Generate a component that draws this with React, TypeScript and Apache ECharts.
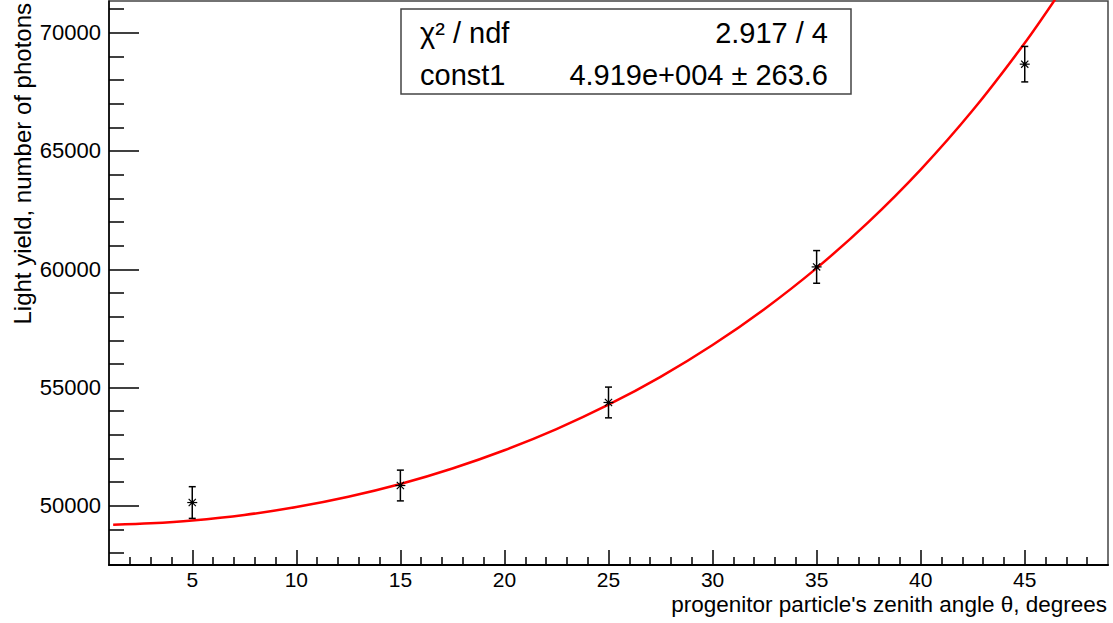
import React, { useEffect, useRef } from "react";
import * as echarts from "echarts";

// measured points
const angles = [5, 15, 25, 35, 45];
const yields = [50140, 50860, 54370, 60100, 68670];
const yieldErrors = [670, 650, 650, 690, 750];

// fitted curve (it leaves the frame at the top)
const fitAngles = [1.2, 3, 5, 7.5, 10, 12.5, 15, 17.5, 20, 22.5, 25, 27.5, 30, 32.5, 35, 37.5, 40, 42.5, 45, 46.5];
const fitValues = [49200, 49260, 49380, 49615, 49950, 50385, 50925, 51580, 52350, 53245, 54275, 55455, 56800, 58325, 60050, 62005, 64215, 66720, 69565, 71460];

// axis ticks
const xMajorTicks = [5, 10, 15, 20, 25, 30, 35, 40, 45];
const xMinorTicks = [2, 3, 4, 6, 7, 8, 9, 11, 12, 13, 14, 16, 17, 18, 19, 21, 22, 23, 24, 26, 27, 28, 29, 31, 32, 33, 34, 36, 37, 38, 39, 41, 42, 43, 44, 46, 47, 48];
const yMajorTicks = [50000, 55000, 60000, 65000, 70000];
const yMinorTicks = [48000, 49000, 51000, 52000, 53000, 54000, 56000, 57000, 58000, 59000, 61000, 62000, 63000, 64000, 66000, 67000, 68000, 69000, 71000];

const X_MIN = 1;
const X_MAX = 49;
const Y_MIN = 47500;
const Y_MAX = 71340;

const xTitle = "progenitor particle's zenith angle θ, degrees";
const yTitle = "Light yield, number of photons";
const statRows = [
  ["χ² / ndf", "2.917 / 4"],
  ["const1", "4.919e+004 ± 263.6"],
];

const FONT = '"Liberation Sans", Arial, Helvetica, sans-serif';

export default function App() {
  const ref = useRef<HTMLDivElement>(null);

  useEffect(() => {
    document.body.style.margin = "0";
    if (!ref.current) return;
    const chart = echarts.init(ref.current, undefined, { renderer: "svg" });

    const axisCommon = {
      type: "value" as const,
      splitLine: { show: false },
    };

    const option: any = {
      animation: false,
      backgroundColor: "#ffffff",
      grid: {
        left: 109,
        right: 5,
        top: 1,
        bottom: 58,
        show: true,
        borderColor: "#444",
        borderWidth: 1.5,
        backgroundColor: "transparent",
      },
      xAxis: [
        {
          ...axisCommon,
          min: X_MIN,
          max: X_MAX,
          axisLine: { show: true, onZero: false, lineStyle: { color: "#000", width: 2 } },
          axisTick: { show: true, inside: true, length: 15, customValues: xMajorTicks, lineStyle: { color: "#000", width: 1.5 } },
          axisLabel: { show: true, customValues: xMajorTicks, margin: 3, fontSize: 21, lineHeight: 22, color: "#000", fontFamily: FONT, formatter: (v: number) => String(v) },
        },
        {
          ...axisCommon,
          min: X_MIN,
          max: X_MAX,
          position: "bottom",
          axisLine: { show: false },
          axisTick: { show: true, inside: true, length: 8, customValues: xMinorTicks, lineStyle: { color: "#000", width: 1.5 } },
          axisLabel: { show: false },
        },
      ],
      yAxis: [
        {
          ...axisCommon,
          min: Y_MIN,
          max: Y_MAX,
          axisLine: { show: true, onZero: false, lineStyle: { color: "#000", width: 1.5 } },
          axisTick: { show: true, inside: true, length: 30, customValues: yMajorTicks, lineStyle: { color: "#000", width: 1.5 } },
          axisLabel: { show: true, customValues: yMajorTicks, margin: 8, fontSize: 22, color: "#000", fontFamily: FONT, formatter: (v: number) => String(v) },
        },
        {
          ...axisCommon,
          min: Y_MIN,
          max: Y_MAX,
          position: "left",
          axisLine: { show: false },
          axisTick: { show: true, inside: true, length: 15, customValues: yMinorTicks, lineStyle: { color: "#000", width: 1.5 } },
          axisLabel: { show: false },
        },
      ],
      series: [
        {
          type: "line",
          xAxisIndex: 0,
          yAxisIndex: 0,
          data: fitAngles.map((a, i) => [a, fitValues[i]]),
          smooth: 0.3,
          showSymbol: false,
          symbol: "none",
          clip: true,
          lineStyle: { color: "#ff0000", width: 2.5 },
          z: 3,
        },
        {
          type: "custom",
          xAxisIndex: 0,
          yAxisIndex: 0,
          data: angles.map((a, i) => [a, yields[i], yieldErrors[i]]),
          z: 4,
          renderItem: (params: any, api: any) => {
            const x = api.value(0);
            const y = api.value(1);
            const e = api.value(2);
            const c = api.coord([x, y]);
            const t = api.coord([x, y + e]);
            const b = api.coord([x, y - e]);
            const cap = 3.5;
            const s = 5;
            const d = 3.6;
            const style = { stroke: "#000", lineWidth: 1.5 };
            const thin = { stroke: "#000", lineWidth: 1.2 };
            return {
              type: "group",
              children: [
                { type: "line", shape: { x1: t[0], y1: t[1], x2: b[0], y2: b[1] }, style },
                { type: "line", shape: { x1: t[0] - cap, y1: t[1], x2: t[0] + cap, y2: t[1] }, style },
                { type: "line", shape: { x1: b[0] - cap, y1: b[1], x2: b[0] + cap, y2: b[1] }, style },
                { type: "line", shape: { x1: c[0] - s, y1: c[1], x2: c[0] + s, y2: c[1] }, style: thin },
                { type: "line", shape: { x1: c[0] - d, y1: c[1] - d, x2: c[0] + d, y2: c[1] + d }, style: thin },
                { type: "line", shape: { x1: c[0] - d, y1: c[1] + d, x2: c[0] + d, y2: c[1] - d }, style: thin },
                { type: "circle", shape: { cx: c[0], cy: c[1], r: 1.8 }, style: { fill: "#000" } },
              ],
            };
          },
        },
      ],
      graphic: [
        {
          type: "text",
          x: 1107,
          y: 604,
          style: { text: xTitle, align: "right", verticalAlign: "middle", fontSize: 22.5, lineHeight: 23, fontFamily: FONT, fill: "#000" },
        },
        {
          type: "text",
          x: 22,
          y: 3,
          rotation: Math.PI / 2,
          style: { text: yTitle, align: "right", verticalAlign: "middle", fontSize: 24, fontFamily: FONT, fill: "#000" },
        },
        {
          type: "rect",
          shape: { x: 401, y: 9, width: 450, height: 85 },
          style: { fill: "#fff", stroke: "#444", lineWidth: 1.5 },
          z: 10,
        },
        ...statRows.flatMap((row, i) => [
          {
            type: "text",
            x: 420,
            y: 33 + i * 42,
            z: 11,
            style: { text: row[0], align: "left", verticalAlign: "middle", fontSize: 29, fontFamily: FONT, fill: "#000" },
          },
          {
            type: "text",
            x: 828,
            y: 33 + i * 42,
            z: 11,
            style: { text: row[1], align: "right", verticalAlign: "middle", fontSize: 29, fontFamily: FONT, fill: "#000" },
          },
        ]),
      ],
    };

    chart.setOption(option);
    return () => chart.dispose();
  }, []);

  return <div ref={ref} style={{ width: 1113, height: 623 }} />;
}
